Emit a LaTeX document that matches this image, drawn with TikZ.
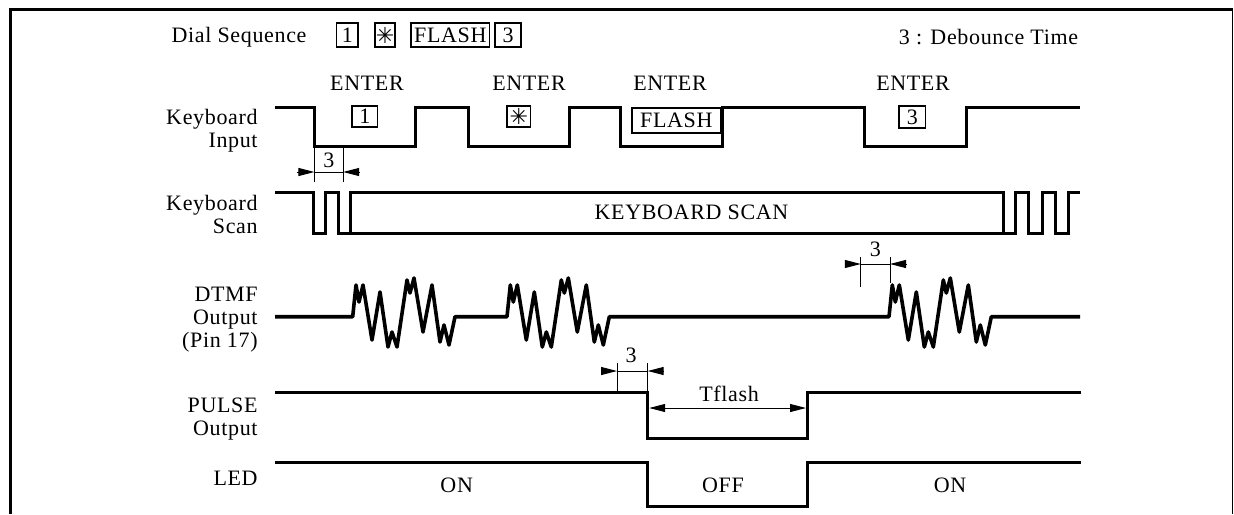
\documentclass[tikz,border=0pt]{standalone}
\usepackage{fontspec}
\setmainfont{Liberation Serif}[LetterSpace=3]
\newfontfamily\symfont{DejaVu Sans}
\usetikzlibrary{arrows.meta}
\begin{document}
\begin{tikzpicture}[x=0.5pt,y=-0.5pt,
  sig/.style={line width=1.5pt,line join=miter},
  wave/.style={line width=1.8pt,line join=round},
  dim/.style={line width=0.5pt},
  arr/.style={-{Triangle[length=8pt,width=4pt]}},
  lbl/.style={font=\fontsize{11}{11.5}\selectfont,align=right,anchor=east,inner sep=0pt},
  txt/.style={font=\fontsize{11}{12}\selectfont,inner sep=0pt,anchor=base},
  kbox/.style={draw,line width=0.7pt,inner sep=0pt,font=\fontsize{11}{12}\selectfont}]
\useasboundingbox (0,0) rectangle (1234,514);
% frame
\draw[line width=1.5pt] (10,514) -- (10,9.5) -- (1233,9.5);
\draw[line width=0.6pt] (1232.5,9.5) -- (1232.5,514);
% header
\node[txt] (dial) at (239,42.3) {Dial Sequence};
\node[kbox,minimum width=10.75pt,minimum height=12pt] (d1) at (347.3,35) {1};
\node[kbox,minimum width=10pt,minimum height=12pt] (d2) at (385,35) {\symfont ✳};
\node[kbox,minimum width=39.25pt,minimum height=12pt] (d3) at (450.3,35) {FLASH};
\node[kbox,minimum width=13pt,minimum height=12pt] (d4) at (508,35) {3};
\node[txt] (deb) at (988.5,44.3) {3 : Debounce Time};
% ENTER labels
\node[txt] (e1) at (367,90.3) {ENTER};
\node[txt] (e2) at (529,90.3) {ENTER};
\node[txt] (e3) at (670,90.3) {ENTER};
\node[txt] (e4) at (913,90.3) {ENTER};
% row labels
\node[lbl] (lki) at (258,131) {Keyboard\\Input};
\node[lbl] (lks) at (258,214) {Keyboard\\Scan};
\node[lbl] (ldt) at (258,320) {DTMF\\Output\\(Pin 17)};
\node[lbl] (lpu) at (258,419.5) {PULSE\\Output};
\node[txt,anchor=base east] (lled) at (258,485.3) {LED};
% keyboard input
\draw[sig] (275,107) -- (314.4,107) -- (314.4,146) -- (415,146) -- (415,107) -- (468.6,107) -- (468.6,146) -- (569,146) -- (569,107) -- (620,107) -- (620,146) -- (722,146) -- (722,107) -- (864,107) -- (864,146) -- (966,146) -- (966,107) -- (1080,107);
\node[kbox,minimum width=12.8pt,minimum height=10.5pt] (k1) at (364.8,116.5) {1};
\node[kbox,minimum width=11.8pt,minimum height=10.5pt] (k2) at (518.8,116.5) {\symfont ✳};
\node[kbox,minimum width=44.25pt,minimum height=12.5pt] (k3) at (676.3,120.5) {FLASH};
\node[kbox,minimum width=13.25pt,minimum height=11pt] (k4) at (912.3,117) {3};
% debounce dim 1
\coordinate (a1) at (296.6,172);
\coordinate (a2) at (314.4,172);
\coordinate (a3) at (343.2,172);
\coordinate (a4) at (360,172);
\draw[dim] (314.4,148) -- (314.4,182);
\draw[dim] (343.2,148) -- (343.2,182);
\draw[dim] (a2) -- (a3);
\draw[dim,arr] (a1) -- (a2);
\draw[dim,arr] (a4) -- (a3);
\node[txt] (t1) at (328.8,167.3) {3};
% keyboard scan
\draw[sig] (275,192) -- (313.3,192) -- (313.3,233) -- (325.7,233) -- (325.7,192) -- (338.3,192) -- (338.3,233) -- (1015.7,233) -- (1015.7,192) -- (1028.7,192) -- (1028.7,233) -- (1042,233) -- (1042,192) -- (1055,192) -- (1055,233) -- (1068,233) -- (1068,192) -- (1080,192);
\draw[sig] (350.7,233) -- (350.7,192) -- (1003,192) -- (1003,233);
\node[txt] (ks) at (691.5,219) {KEYBOARD SCAN};
% DTMF
\draw[wave] (275,316.7) -- (352.7,316.7)
 -- ++(3.3,-31.7) -- ++(3,17) -- ++(4,-17) -- ++(9,55) -- ++(8,-48) -- ++(8,55) -- ++(4,-15) -- ++(5,15) -- ++(10,-67) -- ++(3,13) -- ++(4,-15) -- ++(9,54) -- ++(9,-47) -- ++(8,57) -- ++(4,-17) -- ++(5,20) -- ++(6,-28.3)
 -- (507,316.7)
 -- ++(3.3,-31.7) -- ++(3,17) -- ++(4,-17) -- ++(9,55) -- ++(8,-48) -- ++(8,55) -- ++(4,-15) -- ++(5,15) -- ++(10,-67) -- ++(3,13) -- ++(4,-15) -- ++(9,54) -- ++(9,-47) -- ++(8,57) -- ++(4,-17) -- ++(5,20) -- ++(6,-28.3)
 -- (889,316.7)
 -- ++(3.3,-31.7) -- ++(3,17) -- ++(4,-17) -- ++(9,55) -- ++(8,-48) -- ++(8,55) -- ++(4,-15) -- ++(5,15) -- ++(10,-67) -- ++(3,13) -- ++(4,-15) -- ++(9,54) -- ++(9,-47) -- ++(8,57) -- ++(4,-17) -- ++(5,20) -- ++(6,-28.3)
 -- (1080,316.7);
% debounce dim 2
\coordinate (b1) at (844.8,264);
\coordinate (b2) at (860.8,264);
\coordinate (b3) at (890,264);
\coordinate (b4) at (907,264);
\draw[dim] (860.8,257) -- (860.8,287);
\draw[dim] (890,257) -- (890,283);
\draw[dim] (b2) -- (b3);
\draw[dim,arr] (b1) -- (b2);
\draw[dim,arr] (b4) -- (b3);
\node[txt] (t2) at (875.4,256.3) {3};
% pulse
\draw[sig] (275,392) -- (647.7,392) -- (647.7,438) -- (807.4,438) -- (807.4,392) -- (1081,392);
\coordinate (c1) at (601,371);
\coordinate (c2) at (617,371);
\coordinate (c3) at (647.7,371);
\coordinate (c4) at (664,371);
\draw[dim] (617,363) -- (617,392);
\draw[dim] (647.7,363) -- (647.7,392);
\draw[dim] (c2) -- (c3);
\draw[dim,arr] (c1) -- (c2);
\draw[dim,arr] (c4) -- (c3);
\node[txt] (t3) at (631,362.3) {3};
\coordinate (f1) at (649.2,408);
\coordinate (f2) at (806,408);
\draw[dim,{Triangle[length=8pt,width=4pt]}-{Triangle[length=8pt,width=4pt]}] (f1) -- (f2);
\node[txt] (tf) at (729,401.5) {Tflash};
% LED
\draw[sig] (275,462) -- (647.7,462) -- (647.7,506) -- (807.4,506) -- (807.4,462) -- (1081,462);
\node[txt] (on1) at (456.7,492.3) {ON};
\node[txt] (off) at (723,492.3) {OFF};
\node[txt] (on2) at (950,492.3) {ON};
\end{tikzpicture}
\end{document}
